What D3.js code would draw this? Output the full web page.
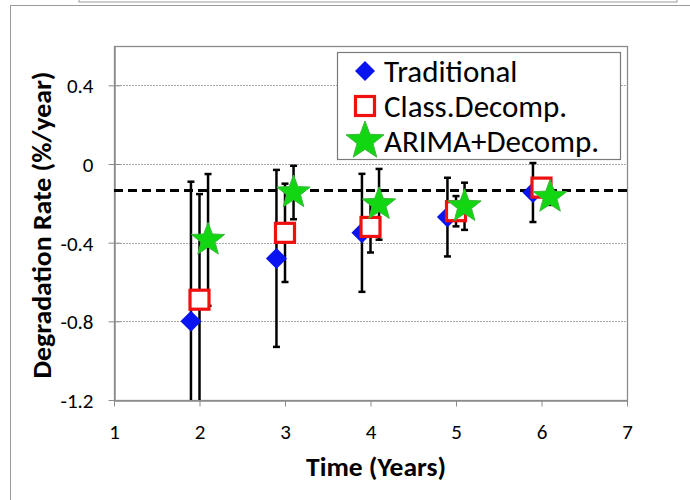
<!DOCTYPE html>
<html>
<head>
<meta charset="utf-8">
<script src="https://cdn.jsdelivr.net/npm/d3@7"></script>
<style>
  html, body { margin: 0; padding: 0; background: #fff; }
  svg { display: block; }
  text { font-family: Carlito, Lato, "Open Sans", sans-serif; fill: #000; }
</style>
</head>
<body>
<svg id="chart" width="690" height="500"></svg>
<script>
// Degradation rate estimates by observation length
const years = [2, 3, 4, 5, 6];
const seriesNames = ["Traditional", "Class.Decomp.", "ARIMA+Decomp."];
const traditionalValues = [-0.80, -0.48, -0.35, -0.27, -0.145];
const traditionalErrors = [0.71, 0.45, 0.30, 0.20, 0.15];
const classDecompValues = [-0.69, -0.35, -0.32, -0.24, -0.12];
const classDecompErrors = [0.537, 0.25, 0.13, 0.077, 0.03];
const arimaDecompValues = [-0.386, -0.145, -0.205, -0.215, -0.168];
const arimaDecompErrors = [0.335, 0.136, 0.18, 0.12, 0.04];
const referenceRate = -0.135;
const xTicks = [1, 2, 3, 4, 5, 6, 7];
const yTicks = [-1.2, -0.8, -0.4, 0, 0.4];
const yTickLabels = ["-1.2", "-0.8", "-0.4", "0", "0.4"];

const svg = d3.select("#chart");
const plotL = 114, plotR = 627, plotT = 46, plotB = 400;
const x = d3.scaleLinear().domain([1, 7]).range([plotL, plotR]);
const y = d3.scaleLinear().domain([-1.2, 0.6]).range([plotB, plotT]);

// outer frames
svg.append("rect").attr("x", 79).attr("y", -10).attr("width", 598).attr("height", 12)
  .attr("fill", "none").attr("stroke", "#9a9a9a").attr("stroke-width", 1);
svg.append("rect").attr("x", 10.5).attr("y", 5.5).attr("width", 700).attr("height", 520)
  .attr("fill", "none").attr("stroke", "#9a9a9a").attr("stroke-width", 1);

// gridlines
svg.append("g").selectAll("line").data(yTicks.filter(v => v > -1.2)).join("line")
  .attr("x1", plotL).attr("x2", plotR)
  .attr("y1", d => Math.round(y(d)) + 0.5).attr("y2", d => Math.round(y(d)) + 0.5)
  .attr("stroke", "#a8a8a8").attr("stroke-width", 1).attr("stroke-dasharray", "2,1");

// plot border
svg.append("rect").attr("x", plotL + 0.5).attr("y", plotT + 0.5)
  .attr("width", plotR - plotL).attr("height", plotB - plotT)
  .attr("fill", "none").attr("stroke", "#8c8c8c").attr("stroke-width", 1.3);

// axes
const yAxis = d3.axisLeft(y).tickValues(yTicks).tickFormat((d, i) => yTickLabels[i])
  .tickSizeInner(6).tickSizeOuter(0).tickPadding(15);
const gy = svg.append("g").attr("transform", `translate(${plotL + 0.5},0)`).call(yAxis);
gy.select(".domain").attr("stroke", "#8c8c8c").attr("stroke-width", 1.5);
gy.selectAll(".tick line").attr("stroke", "#8c8c8c").attr("x2", -6).attr("x1", 6);
gy.selectAll(".tick text").style("font-size", "21px").attr("dy", "0.35em");

const xAxis = d3.axisBottom(x).tickValues(xTicks).tickFormat(d3.format("d"))
  .tickSizeInner(6).tickSizeOuter(0).tickPadding(18);
const gx = svg.append("g").attr("transform", `translate(0,${plotB + 0.5})`).call(xAxis);
gx.select(".domain").attr("stroke", "#8c8c8c").attr("stroke-width", 1.5);
gx.selectAll(".tick line").attr("stroke", "#8c8c8c");
gx.selectAll(".tick text").style("font-size", "21px");

// axis titles
svg.append("text").attr("x", 376).attr("y", 476)
  .attr("text-anchor", "middle").style("font-size", "26px").style("font-weight", "bold")
  .attr("textLength", 140).attr("lengthAdjust", "spacingAndGlyphs")
  .text("Time (Years)");
svg.append("text").attr("transform", `translate(51,${(plotT + plotB) / 2 + 2}) rotate(-90)`)
  .attr("text-anchor", "middle").style("font-size", "26px").style("font-weight", "bold")
  .attr("textLength", 307).attr("lengthAdjust", "spacingAndGlyphs")
  .text("Degradation Rate (%/year)");

// reference line
svg.append("line").attr("x1", plotL).attr("x2", plotR)
  .attr("y1", y(referenceRate)).attr("y2", y(referenceRate))
  .attr("stroke", "#000").attr("stroke-width", 3).attr("stroke-dasharray", "9,5");

// marker shapes
function starPath(R) {
  const r = R * 0.42, pts = [];
  for (let i = 0; i < 10; i++) {
    const a = -Math.PI / 2 + i * Math.PI / 5, rr = i % 2 ? r : R;
    pts.push([rr * Math.cos(a), rr * Math.sin(a)]);
  }
  return d3.line()(pts) + "Z";
}
const diamondPath = h => `M0,${-h}L${h},0L0,${h}L${-h},0Z`;

const series = [
  { name: seriesNames[0], values: traditionalValues, errors: traditionalErrors, offset: -0.1 },
  { name: seriesNames[1], values: classDecompValues, errors: classDecompErrors, offset: 0 },
  { name: seriesNames[2], values: arimaDecompValues, errors: arimaDecompErrors, offset: 0.1 }
];

svg.append("clipPath").attr("id", "plot-clip").append("rect")
  .attr("x", plotL).attr("y", plotT).attr("width", plotR - plotL).attr("height", plotB - plotT);
const plot = svg.append("g").attr("clip-path", "url(#plot-clip)");

// error bars
series.forEach(s => {
  const g = plot.append("g");
  s.values.forEach((v, i) => {
    const cx = x(years[i] + s.offset);
    const y1 = y(v + s.errors[i]), y2 = y(v - s.errors[i]);
    g.append("line").attr("x1", cx).attr("x2", cx).attr("y1", y1).attr("y2", y2)
      .attr("stroke", "#000").attr("stroke-width", 2.5);
    [y1, y2].forEach(yy => g.append("line").attr("x1", cx - 3.5).attr("x2", cx + 3.5)
      .attr("y1", yy).attr("y2", yy).attr("stroke", "#000").attr("stroke-width", 2.5));
  });
});

function drawMarker(g, idx, cx, cy, big) {
  if (idx === 0) {
    g.append("path").attr("d", diamondPath(big ? 10 : 10.5))
      .attr("transform", `translate(${cx},${cy})`).attr("fill", "#0a14f0");
  } else if (idx === 1) {
    const s = 19;
    g.append("rect").attr("x", cx - s / 2).attr("y", cy - s / 2).attr("width", s).attr("height", s)
      .attr("fill", "#fff").attr("stroke", "#f01010").attr("stroke-width", 3.2);
  } else {
    g.append("path").attr("d", starPath(big ? 20 : 17.5))
      .attr("transform", `translate(${cx},${cy})`).attr("fill", "#12d612")
      .attr("stroke", "#3cb83c").attr("stroke-width", 1);
  }
}

// markers
series.forEach((s, si) => {
  const g = plot.append("g");
  s.values.forEach((v, i) => drawMarker(g, si, x(years[i] + s.offset), y(v), false));
});

// legend
const legend = svg.append("g");
legend.append("rect").attr("x", 337.5).attr("y", 52.5).attr("width", 283).attr("height", 107)
  .attr("fill", "#fff").attr("stroke", "#7a7a7a").attr("stroke-width", 1.2);
const rowY = [71, 106, 141];
series.forEach((s, si) => {
  drawMarker(legend, si, 365, rowY[si], true);
  legend.append("text").attr("x", 384).attr("y", rowY[si]).attr("dy", "0.36em")
    .style("font-size", "31px").text(s.name);
});
</script>
</body>
</html>
